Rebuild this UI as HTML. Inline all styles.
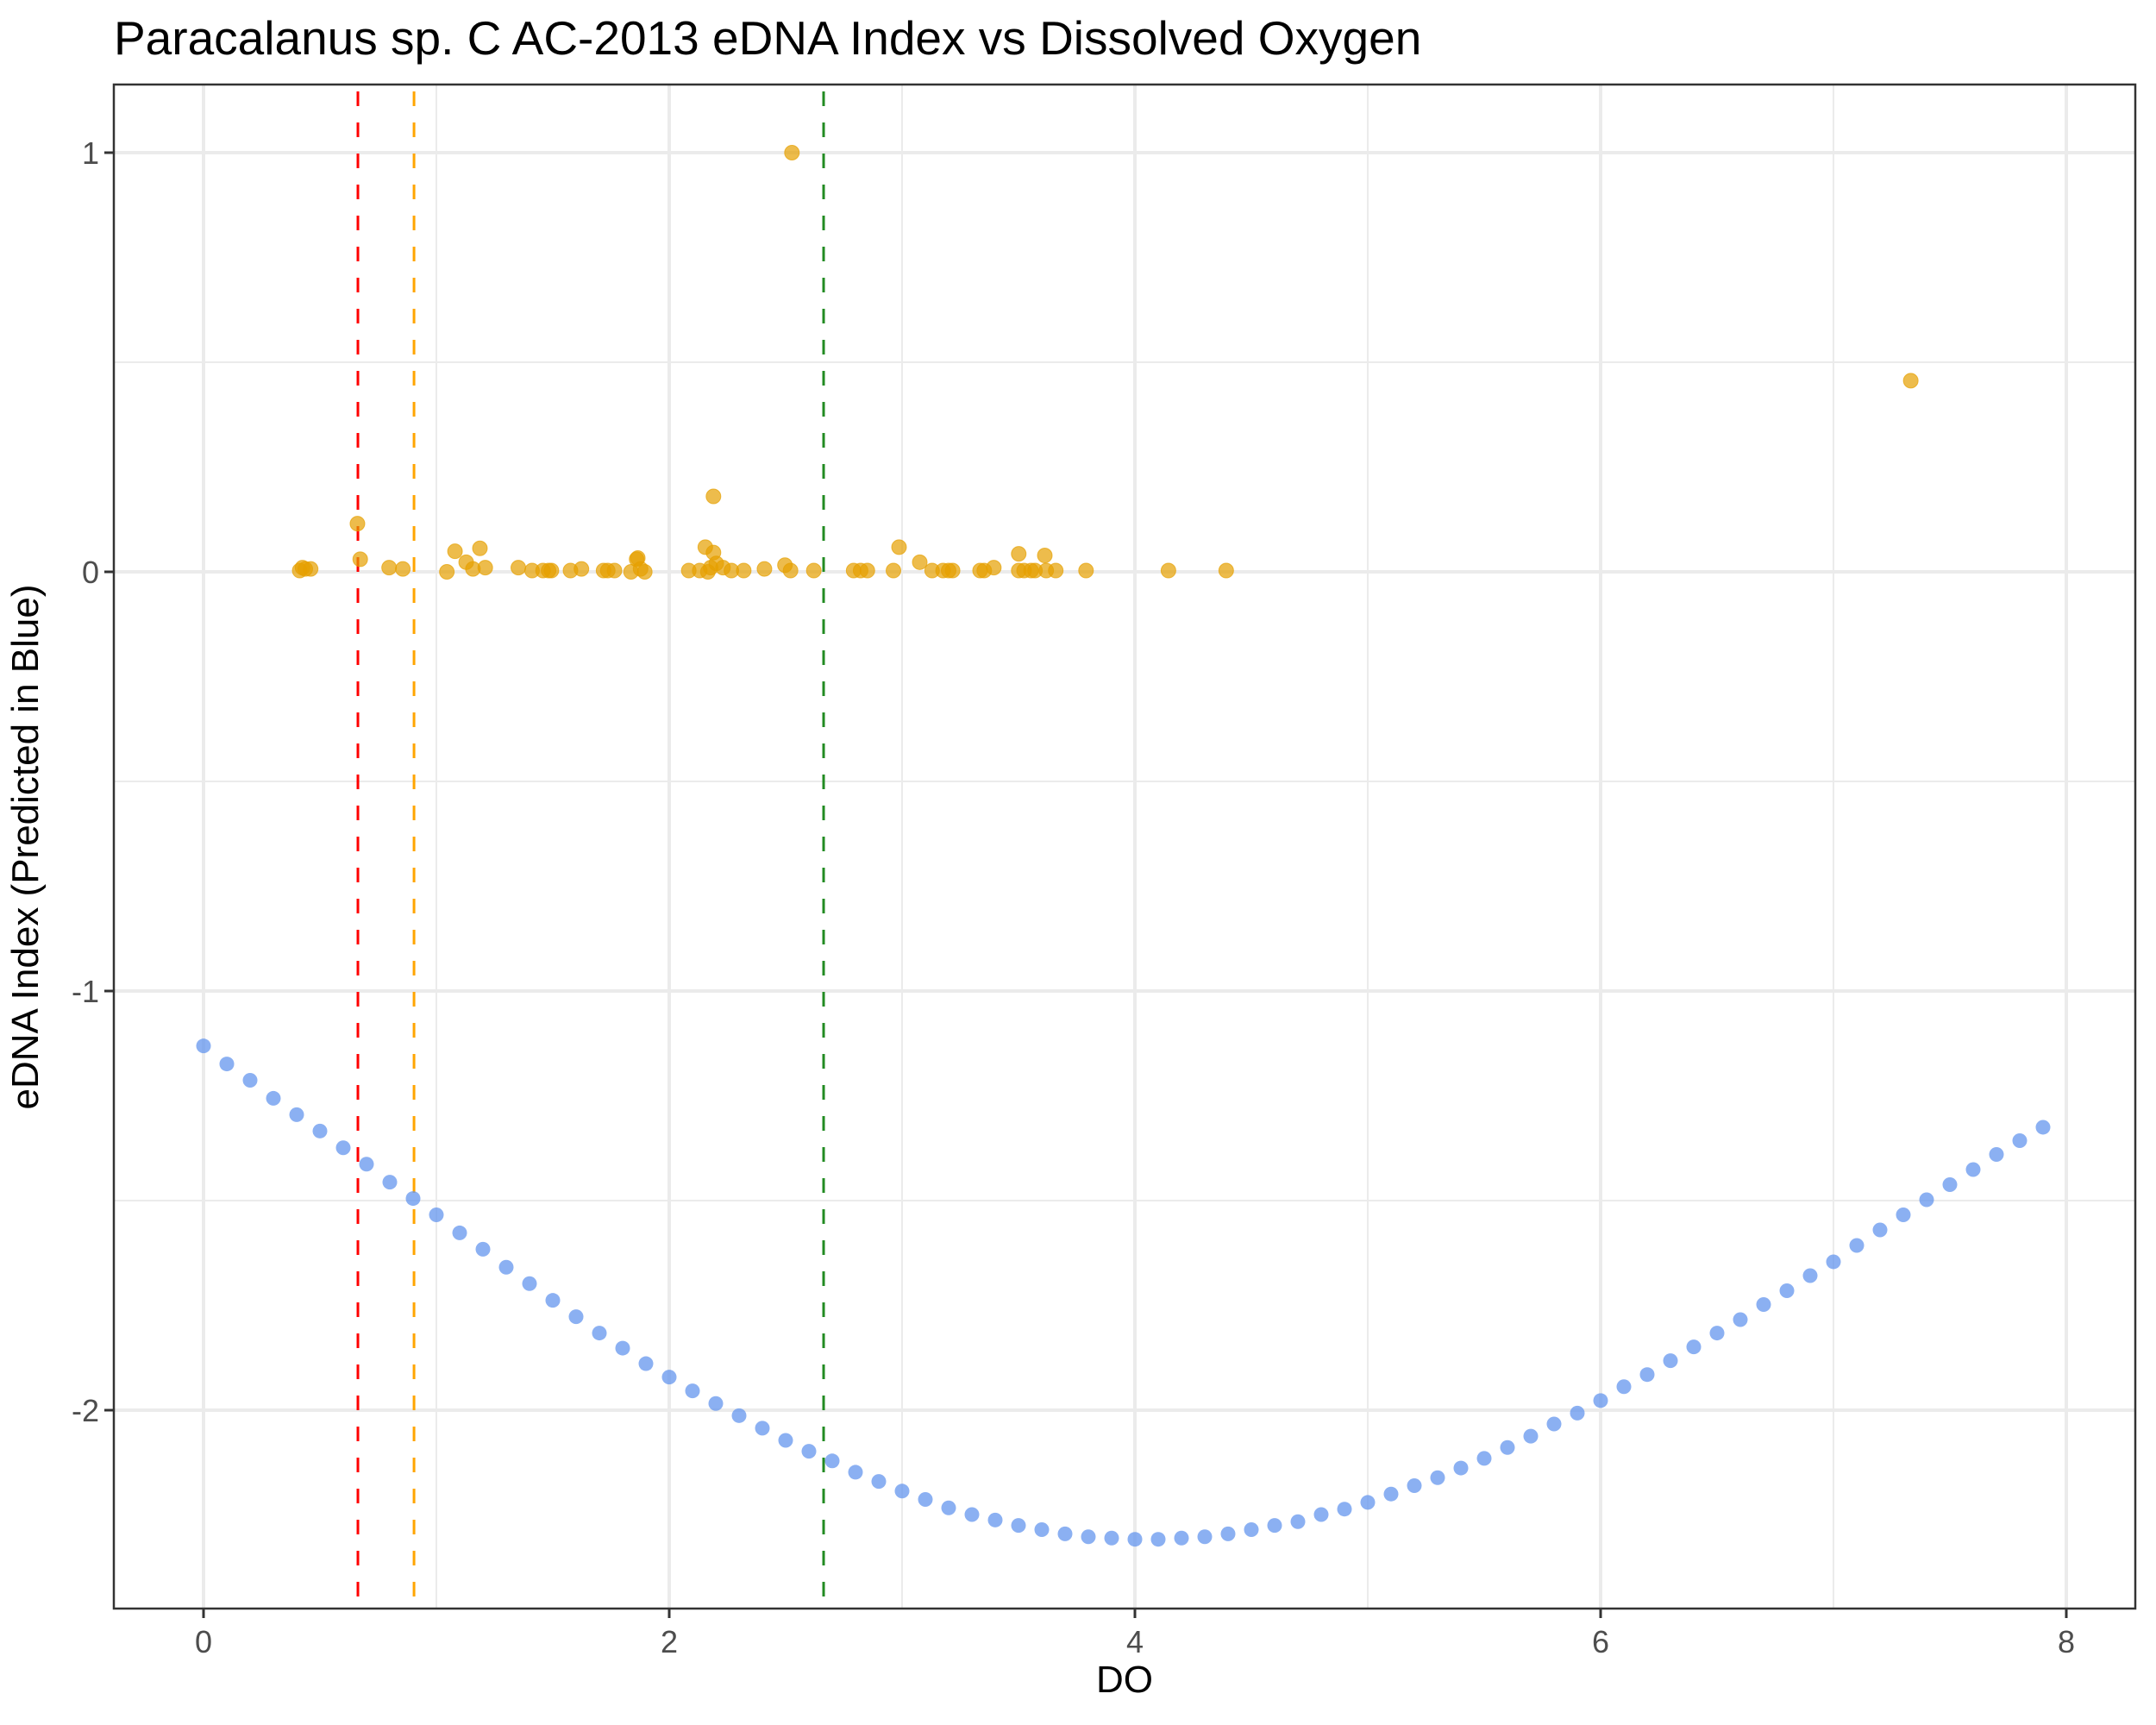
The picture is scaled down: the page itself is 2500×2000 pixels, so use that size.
<!DOCTYPE html>
<html><head><meta charset="utf-8"><style>
html,body{margin:0;padding:0;background:#fff}
svg{display:block;font-family:"Liberation Sans",sans-serif}
</style></head><body>
<svg id="chart" width="2500" height="2000" viewBox="0 0 2500 2000">
<rect width="2500" height="2000" fill="#fff"/>
<text x="132" y="63" font-size="55" fill="#000">Paracalanus sp. C AC-2013 eDNA Index vs Dissolved Oxygen</text>
<g id="grid"></g>
<g id="vlines"></g>
<g id="pts"></g>
<rect x="132" y="98" width="2344" height="1767" fill="none" stroke="#333" stroke-width="2.5"/>
<g id="axes"></g>
<text x="1304" y="1962" font-size="44" text-anchor="middle" fill="#000">DO</text>
<text transform="translate(44,982) rotate(-90)" font-size="44" text-anchor="middle" fill="#000">eDNA Index (Predicted in Blue)</text>
</svg>
<script>
const xTicks=[0,2,4,6,8];
const xMinor=[1,3,5,7];
const yTicks=[1,0,-1,-2];
const yTickLabels=["1","0","-1","-2"];
const yMinor=[0.5,-0.5,-1.5];
const thresholds=[0.663,0.904,2.663];
const thresholdColors=["#ff0000","#ffa500","#228b22"];
const predDO=[0,0.1,0.2,0.3,0.4,0.5,0.6,0.7,0.8,0.9,1,1.1,1.2,1.3,1.4,1.5,1.6,1.7,1.8,1.9,2,2.1,2.2,2.3,2.4,2.5,2.6,2.7,2.8,2.9,3,3.1,3.2,3.3,3.4,3.5,3.6,3.7,3.8,3.9,4,4.1,4.2,4.3,4.4,4.5,4.6,4.7,4.8,4.9,5,5.1,5.2,5.3,5.4,5.5,5.6,5.7,5.8,5.9,6,6.1,6.2,6.3,6.4,6.5,6.6,6.7,6.8,6.9,7,7.1,7.2,7.3,7.4,7.5,7.6,7.7,7.8,7.9];
const predIndex=[-1.131,-1.174,-1.213,-1.256,-1.295,-1.334,-1.374,-1.413,-1.456,-1.495,-1.534,-1.577,-1.616,-1.659,-1.698,-1.738,-1.777,-1.816,-1.852,-1.889,-1.921,-1.954,-1.984,-2.013,-2.043,-2.072,-2.098,-2.121,-2.148,-2.170,-2.193,-2.213,-2.233,-2.249,-2.262,-2.275,-2.285,-2.295,-2.302,-2.305,-2.308,-2.308,-2.305,-2.302,-2.295,-2.285,-2.275,-2.266,-2.249,-2.236,-2.220,-2.200,-2.180,-2.161,-2.138,-2.115,-2.089,-2.062,-2.033,-2.007,-1.977,-1.944,-1.915,-1.882,-1.849,-1.816,-1.784,-1.748,-1.715,-1.679,-1.646,-1.607,-1.570,-1.534,-1.498,-1.462,-1.426,-1.390,-1.357,-1.325];
const obsDO=[0.413,0.425,0.437,0.46,0.661,0.673,0.797,0.856,1.045,1.08,1.128,1.157,1.187,1.21,1.352,1.411,1.458,1.482,1.494,1.576,1.623,1.718,1.736,1.765,1.836,1.86,1.865,1.877,1.895,2.084,2.131,2.155,2.166,2.178,2.19,2.19,2.202,2.231,2.267,2.32,2.409,2.497,2.521,2.527,2.621,2.792,2.822,2.851,2.963,2.987,3.076,3.129,3.176,3.2,3.217,3.335,3.353,3.394,3.501,3.501,3.524,3.554,3.571,3.613,3.619,3.66,3.79,4.144,4.392,7.332];
const obsIndex=[0.003,0.01,0.007,0.007,0.115,0.03,0.01,0.007,0,0.049,0.023,0.007,0.056,0.01,0.01,0.003,0.003,0.003,0.003,0.003,0.007,0.003,0.003,0.003,0,0.03,0.033,0.007,0,0.003,0.003,0.059,0,0.01,0.046,0.18,0.02,0.01,0.003,0.003,0.007,0.016,0.003,1.0,0.003,0.003,0.003,0.003,0.003,0.059,0.023,0.003,0.003,0.003,0.003,0.003,0.003,0.01,0.043,0.003,0.003,0.003,0.003,0.039,0.003,0.003,0.003,0.003,0.003,0.456];

const NS="http://www.w3.org/2000/svg";
const L=132,T=98,R=2476,B=1865;
const xs=v=>236+v*270;
const ys=v=>663-v*486;
function mk(tag,attrs,parent){const e=document.createElementNS(NS,tag);for(const k in attrs)e.setAttribute(k,attrs[k]);parent.appendChild(e);return e;}
const grid=document.getElementById('grid'),axes=document.getElementById('axes'),vl=document.getElementById('vlines'),pts=document.getElementById('pts');
xMinor.forEach(v=>{const e=mk('line',{x1:xs(v),x2:xs(v),y1:T,y2:B,stroke:'#ebebeb','stroke-width':2},grid);

});
yMinor.forEach(v=>{const e=mk('line',{x1:L,x2:R,y1:ys(v),y2:ys(v),stroke:'#ebebeb','stroke-width':2},grid);

});
xTicks.forEach(v=>{const e=mk('line',{x1:xs(v),x2:xs(v),y1:T,y2:B,stroke:'#ebebeb','stroke-width':4},grid);


const t=mk('line',{x1:xs(v),x2:xs(v),y1:B,y2:B+11,stroke:'#333','stroke-width':3},axes);


const l=mk('text',{x:xs(v),y:B+51,'font-size':36,'text-anchor':'middle',fill:'#4d4d4d'},axes);l.textContent=String(v);

});
yTicks.forEach((v,i)=>{const e=mk('line',{x1:L,x2:R,y1:ys(v),y2:ys(v),stroke:'#ebebeb','stroke-width':4},grid);


const t=mk('line',{x1:L-11,x2:L,y1:ys(v),y2:ys(v),stroke:'#333','stroke-width':3},axes);


const l=mk('text',{x:L-17,y:ys(v)+13,'font-size':36,'text-anchor':'end',fill:'#4d4d4d'},axes);l.textContent=yTickLabels[i];

});
thresholds.forEach((v,i)=>{const e=mk('line',{x1:xs(v),x2:xs(v),y1:T,y2:B,stroke:thresholdColors[i],'stroke-width':3,'stroke-dasharray':'17 19','stroke-dashoffset':-8},vl);

});
predDO.forEach((v,i)=>{const c=mk('circle',{cx:xs(v),cy:ys(predIndex[i]),r:8.5,fill:'#6495ed','fill-opacity':0.75},pts);

});
obsDO.forEach((v,i)=>{const c=mk('circle',{cx:xs(v),cy:ys(obsIndex[i]),r:8.5,fill:'#e69f00','fill-opacity':0.7,stroke:'#e69f00','stroke-opacity':0.7,'stroke-width':1},pts);

});
</script>
</body></html>
